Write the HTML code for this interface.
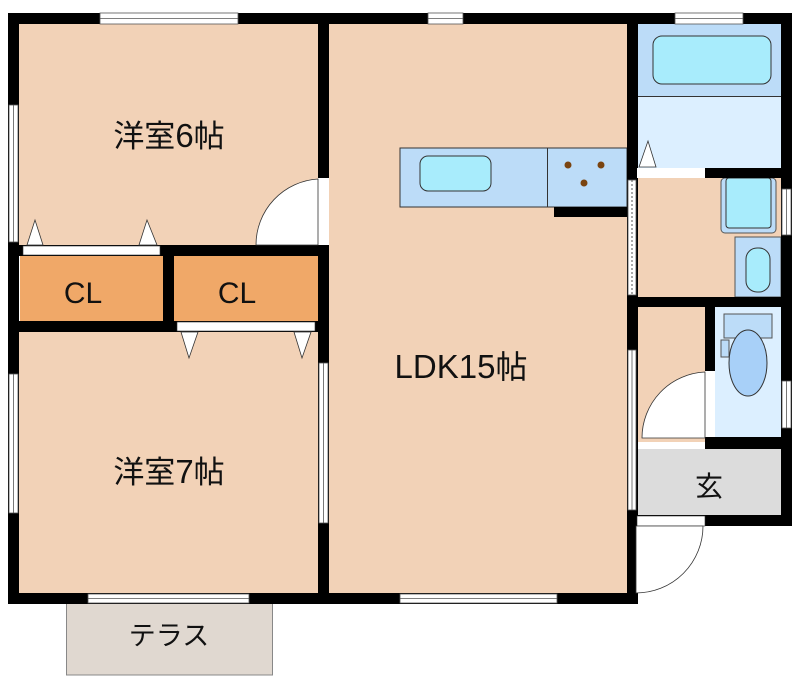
<!DOCTYPE html>
<html><head><meta charset="utf-8"><style>
html,body{margin:0;padding:0;background:#fff}
svg{display:block}
text{font-family:"Liberation Sans","Noto Sans CJK JP",sans-serif;fill:#111}
</style></head><body>
<svg width="800" height="686" viewBox="0 0 800 686" xmlns="http://www.w3.org/2000/svg">
<rect width="800" height="686" fill="#fff"/>
<rect x="66.5" y="603" width="206" height="72" fill="#e0d8d0" stroke="#888" stroke-width="1"/>
<rect x="19" y="24" width="300" height="222" fill="#f2d2b7"/>
<rect x="19" y="332" width="300" height="262" fill="#f2d2b7"/>
<rect x="329" y="24" width="299" height="570" fill="#f2d2b7"/>
<rect x="20" y="256" width="143" height="66" fill="#f0a868"/>
<rect x="174" y="256" width="144" height="66" fill="#f0a868"/>
<rect x="637" y="24" width="145" height="73" fill="#bcdcf8"/>
<rect x="637" y="97" width="145" height="71" fill="#dcefff"/>
<line x1="637" y1="96.5" x2="782" y2="96.5" stroke="#333" stroke-width="1"/>
<rect x="653" y="36" width="118" height="48" rx="9" fill="#a8ecfc" stroke="#333" stroke-width="1"/>
<rect x="637" y="178" width="145" height="119" fill="#f2d2b7"/>
<rect x="721" y="178" width="55" height="55" rx="4" fill="#bcdcf8" stroke="#555"/>
<rect x="726" y="178" width="45" height="50" rx="3" fill="#a8ecfc" stroke="#333"/>
<rect x="735" y="237" width="46" height="60" fill="#bcdcf8" stroke="#555"/>
<rect x="746" y="248" width="24" height="44" rx="11" fill="#a8ecfc" stroke="#333"/>
<rect x="637" y="307" width="70" height="135" fill="#f2d2b7"/>
<rect x="715" y="307" width="67" height="131" fill="#dcefff"/>
<rect x="724" y="314" width="48" height="24" fill="#bcdcf8" stroke="#555"/>
<rect x="721" y="340" width="8" height="17" fill="#bcdcf8" stroke="#555"/>
<ellipse cx="748" cy="363" rx="19" ry="33" fill="#a8d0f8" stroke="#333"/>
<rect x="637" y="449" width="145" height="66" fill="#dcdcdc"/>
<rect x="400" y="148" width="227" height="59" fill="#bcdcf8" stroke="#333"/>
<line x1="547.5" y1="148" x2="547.5" y2="207" stroke="#333"/>
<rect x="420" y="156" width="71" height="35" rx="8" fill="#a8ecfc" stroke="#333"/>
<circle cx="568" cy="165" r="3.5" fill="#7a4410"/>
<circle cx="601" cy="165" r="3.5" fill="#7a4410"/>
<circle cx="584" cy="183" r="3.5" fill="#7a4410"/>
<rect x="554" y="207" width="74" height="10" fill="#000"/>
<g fill="#000">
<rect x="8" y="13" width="784" height="11"/>
<rect x="8" y="13" width="11" height="591"/>
<rect x="8" y="593" width="630" height="11"/>
<rect x="318" y="13" width="11" height="591"/>
<rect x="627" y="13" width="11" height="591"/>
<rect x="781" y="13" width="11" height="513"/>
<rect x="8" y="245" width="320" height="11"/>
<rect x="8" y="321" width="320" height="11"/>
<rect x="163" y="245" width="11" height="87"/>
<rect x="636" y="168" width="150" height="10"/>
<rect x="636" y="297" width="150" height="10"/>
<rect x="705" y="297" width="10" height="146"/>
<rect x="705" y="437" width="87" height="12"/>
<rect x="636" y="515" width="156" height="11"/>
</g>
<g fill="#fff" stroke="#555" stroke-width="0.8">
<rect x="100" y="13" width="138" height="11"/><line x1="100" y1="18.5" x2="238" y2="18.5"/>
<rect x="428" y="13" width="35" height="11"/><line x1="428" y1="18.5" x2="463" y2="18.5"/>
<rect x="675" y="13" width="68" height="11"/><line x1="675" y1="18.5" x2="743" y2="18.5"/>
<rect x="9" y="105" width="9" height="137"/><line x1="13.5" y1="105" x2="13.5" y2="242"/>
<rect x="9" y="374" width="9" height="139"/><line x1="13.5" y1="374" x2="13.5" y2="513"/>
<rect x="319" y="363" width="9" height="160"/><line x1="323.5" y1="363" x2="323.5" y2="523"/>
<rect x="88" y="594" width="161" height="9"/><line x1="88" y1="598.5" x2="249" y2="598.5"/>
<rect x="400" y="594" width="157" height="9"/><line x1="400" y1="598.5" x2="557" y2="598.5"/>
<rect x="628" y="350" width="8" height="160"/><line x1="632" y1="350" x2="632" y2="510"/>
<rect x="782" y="189" width="9" height="46"/><line x1="786.5" y1="189" x2="786.5" y2="235"/>
<rect x="782" y="381" width="9" height="47"/><line x1="786.5" y1="381" x2="786.5" y2="428"/>
</g>
<rect x="628" y="180" width="8" height="115" fill="#fff" stroke="#555" stroke-width="0.8"/>
<line x1="632" y1="180" x2="632" y2="295" stroke="#555" stroke-dasharray="2,2"/>
<rect x="318" y="178" width="11" height="67" fill="#fff"/>
<path d="M318,179 A66,66 0 0 0 256,245 L318,245 Z" fill="#fff" stroke="#333" stroke-width="0.8"/>
<rect x="23" y="246" width="137" height="9" fill="#fff" stroke="#333" stroke-width="0.6"/>
<rect x="177" y="322" width="138" height="9" fill="#fff" stroke="#333" stroke-width="0.6"/>
<rect x="637" y="168" width="68" height="10" fill="#fff"/>
<g fill="#fff" stroke="#333" stroke-width="0.8">
<path d="M27,245 L35,220 L43,245 Z"/><path d="M139,245 L147,220 L157,245 Z"/>
<path d="M181,332 L189,358 L198,332 Z"/><path d="M294,332 L302,358 L311,332 Z"/>
<path d="M639,167 L648,141 L656,167 Z"/>
</g>
<rect x="705" y="371" width="10" height="66" fill="#fff"/>
<path d="M705,372 A66,66 0 0 0 642,438 L705,438 Z" fill="#fff" stroke="#333" stroke-width="0.8"/>
<rect x="637" y="516" width="68" height="10" fill="#fff" stroke="#333" stroke-width="0.6"/>
<path d="M703,526 A67,67 0 0 1 636,593 L636,526 Z" fill="#fff" stroke="#333" stroke-width="0.8"/>
<text x="169" y="147" font-size="31" text-anchor="middle">洋室<tspan font-size="33">6</tspan>帖</text>
<text x="83" y="303" font-size="30" text-anchor="middle">CL</text>
<text x="237" y="303" font-size="30" text-anchor="middle">CL</text>
<text x="169" y="483" font-size="31" text-anchor="middle">洋室<tspan font-size="33">7</tspan>帖</text>
<text x="461" y="378" font-size="32" text-anchor="middle"><tspan font-size="33">LDK15</tspan>帖</text>
<text x="709" y="496" font-size="28" text-anchor="middle">玄</text>
<text x="169" y="645" font-size="27" text-anchor="middle">テラス</text>
</svg>
</body></html>
